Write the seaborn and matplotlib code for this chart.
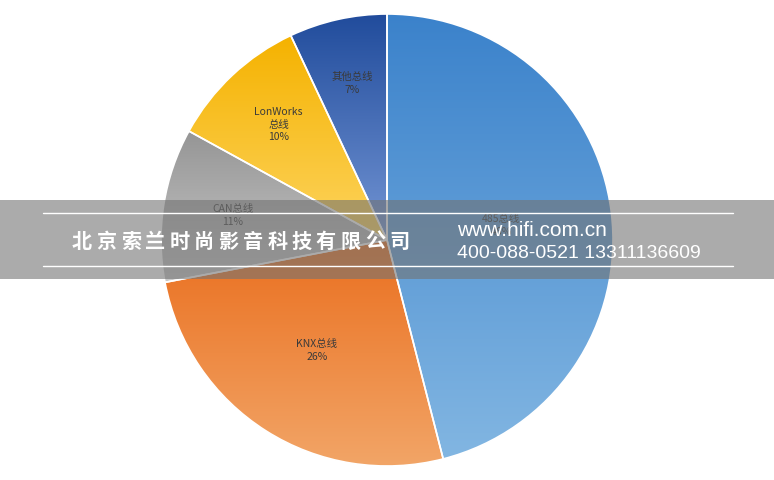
import numpy as np
import matplotlib
matplotlib.use("Agg")
import matplotlib.pyplot as plt
import seaborn as sns

# data
buses = ["485总线", "KNX总线", "CAN总线", "LonWorks\n总线", "其他总线"]
shares = [46, 26, 11, 10, 7]
top_colors = ["#3b82cb", "#ea6f1f", "#959595", "#f5b200", "#214c9c"]
bottom_colors = ["#82b6e2", "#f2a567", "#c9c9c9", "#fdd45e", "#7395d4"]
label_dist = [0.51, 0.58, 0.69, 0.70, 0.71]

company = "北京索兰时尚影音科技有限公司"
site = "www.hifi.com.cn"
phones = "400-088-0521 13311136609"

sns.set_theme(style="white")
plt.rcParams['font.family'] = ['Noto Sans CJK SC', 'DejaVu Sans']

fig = plt.figure(figsize=(7.74, 4.8), dpi=100)
ax = fig.add_axes([0, 0, 1, 1])

cx, cy, R = 387, 240, 226
wedges, _ = ax.pie(shares, startangle=90, counterclock=False,
                   center=(cx, cy), radius=R, frame=True,
                   wedgeprops=dict(edgecolor='white', linewidth=1.2))

# vertical gradient fill per wedge, clipped to the wedge
for w, c0, c1 in zip(wedges, top_colors, bottom_colors):
    cmap = sns.blend_palette([c1, c0], n_colors=256, as_cmap=True)
    bb = w.get_path().get_extents()
    grad = np.linspace(0, 1, 256).reshape(-1, 1)
    w.set_facecolor('none')
    im = ax.imshow(grad, cmap=cmap, origin='lower', aspect='auto',
                   extent=[bb.x0, bb.x1, bb.y0, bb.y1], zorder=1)
    im.set_clip_path(w)
    w.set_zorder(2)
ax.set_xlim(0, 774)
ax.set_ylim(0, 480)
ax.axis('off')

for w, name, pct, d in zip(wedges, buses, shares, label_dist):
    mid = np.deg2rad((w.theta1 + w.theta2) / 2)
    ax.text(cx + d * R * np.cos(mid), cy + d * R * np.sin(mid),
            f"{name}\n{pct}%", ha='center', va='center',
            fontsize=7.5, color='#3a3a3a', linespacing=1.3, zorder=3)

# watermark band
ax.axhspan(201, 280, color='#737373', alpha=0.6, zorder=5, lw=0)
for y in (267, 214):
    ax.plot([43, 733], [y, y], color='white', lw=1, zorder=6)
for i, ch in enumerate(company):
    ax.text(82 + i * 24.4, 239, ch, ha='center', va='center', fontsize=14.5,
            fontweight='heavy', color='white', zorder=7)
ax.text(457, 250, site, ha='left', va='center', fontsize=15,
        family='Liberation Sans', color='white', zorder=7)
ax.text(457, 226, phones, ha='left', va='center', fontsize=14,
        family='Liberation Sans', color='white', zorder=7)

fig.savefig("out.png", dpi=100)
